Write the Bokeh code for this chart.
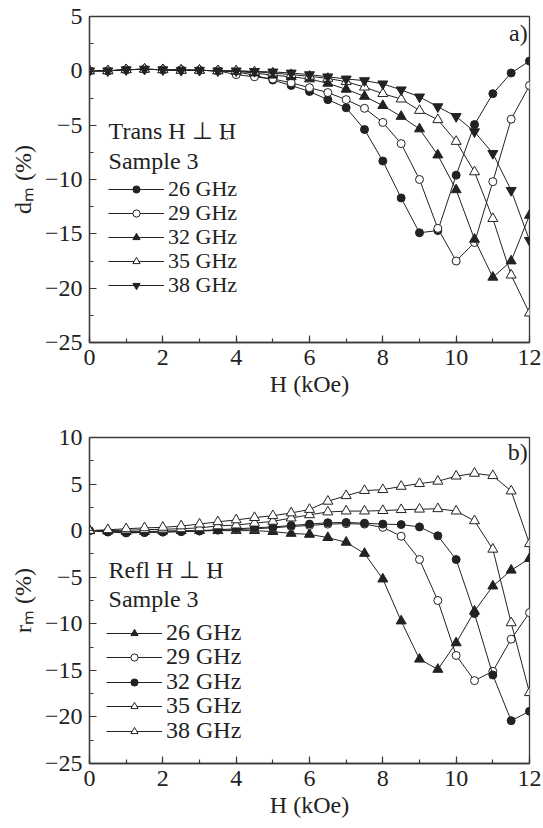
import math
from bokeh.plotting import figure
from bokeh.models import Range1d, SingleIntervalTicker, Legend, LegendItem, Label
from bokeh.layouts import column
from bokeh.embed import file_html
from bokeh.resources import INLINE

# ---------------- data ----------------
H = [0, 0.5, 1, 1.5, 2, 2.5, 3, 3.5, 4, 4.5, 5, 5.5, 6, 6.5, 7, 7.5, 8, 8.5, 9, 9.5, 10, 10.5, 11, 11.5, 12]

freq_labels = ["26 GHz", "29 GHz", "32 GHz", "35 GHz", "38 GHz"]

# panel a) transmission d_m (%)
d_26 = [0, 0, 0.1, 0.15, 0.1, 0.1, 0.05, 0, -0.1, -0.4, -0.85, -1.35, -1.9, -2.65, -3.4, -5.4, -8.3, -11.7, -14.9, -14.7, -9.6, -4.95, -2.1, -0.2, 0.9]
d_29 = [0, 0, 0.1, 0.15, 0.1, 0.05, 0.05, 0, -0.35, -0.55, -0.75, -1.1, -1.55, -2.0, -2.65, -3.45, -4.75, -6.7, -10.0, -14.5, -17.5, -15.8, -10.2, -4.45, -1.35]
d_32 = [0, 0, 0.1, 0.15, 0.1, 0.05, 0.05, 0, -0.05, -0.2, -0.4, -0.55, -0.75, -1.15, -1.7, -2.35, -3.2, -4.2, -5.35, -7.75, -10.95, -15.5, -19.0, -17.5, -13.3]
d_35 = [0, 0, 0.1, 0.15, 0.1, 0.05, 0.05, 0, 0, -0.1, -0.2, -0.35, -0.5, -0.7, -1.0, -1.5, -2.1, -2.6, -3.65, -4.5, -6.5, -9.3, -13.6, -18.8, -22.3]
d_38 = [0, 0, 0.1, 0.15, 0.1, 0.05, 0.05, 0, 0, -0.05, -0.1, -0.2, -0.35, -0.55, -0.75, -0.9, -1.2, -1.75, -2.4, -3.3, -4.2, -5.6, -7.6, -11.0, -15.6]

# panel b) reflection r_m (%)
r_26 = [0, -0.05, -0.1, -0.1, -0.05, 0, 0, 0, 0, 0, -0.1, -0.3, -0.4, -0.75, -1.25, -2.45, -5.2, -9.7, -13.8, -14.9, -12.05, -8.65, -5.95, -4.25, -3.0]
r_29 = [0, -0.1, -0.2, -0.2, -0.15, -0.1, -0.05, 0.05, 0.1, 0.2, 0.3, 0.45, 0.55, 0.7, 0.75, 0.7, 0.35, -0.6, -3.1, -7.5, -13.4, -16.1, -15.1, -11.65, -8.8]
r_32 = [0, -0.15, -0.25, -0.2, -0.15, -0.1, 0, 0.1, 0.2, 0.3, 0.4, 0.55, 0.7, 0.85, 0.88, 0.8, 0.7, 0.65, 0.4, -0.55, -3.1, -8.9, -15.5, -20.4, -19.4]
r_35 = [0, 0, 0.05, 0.1, 0.15, 0.2, 0.3, 0.5, 0.6, 0.8, 1.0, 1.35, 1.7, 2.0, 2.1, 2.1, 2.15, 2.25, 2.3, 2.35, 2.1, 1.05, -2.0, -9.9, -17.4]
r_38 = [0, 0.1, 0.2, 0.3, 0.35, 0.5, 0.7, 0.95, 1.15, 1.4, 1.6, 1.9, 2.27, 3.15, 3.75, 4.3, 4.4, 4.75, 5.05, 5.3, 5.85, 6.15, 5.9, 4.25, -1.4]

x_ticks_interval = 2
y_ticks_interval = 5

# ---------------- styling ----------------
FONT = "Liberation Serif"
INK = "#222222"
AXC = "#3a3a3a"

MARK = {
    "fcircle": dict(marker="circle", size=8, fill_color=INK),
    "ocircle": dict(marker="circle", size=8, fill_color="white"),
    "ftri": dict(marker="triangle", size=10, fill_color=INK),
    "otri": dict(marker="triangle", size=10, fill_color="white"),
    "finv": dict(marker="inverted_triangle", size=10, fill_color=INK),
}


def base_fig(height, btop, bbottom, y0, y1, xlabel, ylabel):
    p = figure(width=543, height=height, output_backend="svg", toolbar_location=None,
               x_range=Range1d(0, 12), y_range=Range1d(y0, y1),
               min_border_left=89, min_border_right=14,
               min_border_top=btop, min_border_bottom=bbottom,
               background_fill_color="white", border_fill_color="white")
    p.xgrid.visible = False
    p.ygrid.visible = False
    p.outline_line_color = AXC
    p.outline_line_width = 1.3
    p.xaxis.ticker = SingleIntervalTicker(interval=x_ticks_interval, num_minor_ticks=2)
    p.yaxis.ticker = SingleIntervalTicker(interval=y_ticks_interval, num_minor_ticks=2)
    for ax in (p.xaxis[0], p.yaxis[0]):
        ax.axis_line_color = AXC
        ax.axis_line_width = 1.3
        ax.major_tick_line_color = AXC
        ax.minor_tick_line_color = AXC
        ax.major_tick_line_width = 1.2
        ax.minor_tick_line_width = 1.2
        ax.major_tick_in = 7
        ax.major_tick_out = 0
        ax.minor_tick_in = 4
        ax.minor_tick_out = 0
        ax.major_label_text_font = FONT
        ax.major_label_text_font_size = "24px"
        ax.major_label_text_color = INK
        ax.major_label_standoff = 7
        ax.axis_label_text_font = FONT
        ax.axis_label_text_font_size = "24px"
        ax.axis_label_text_font_style = "normal"
        ax.axis_label_text_color = INK
    p.xaxis.axis_label = xlabel
    p.xaxis.axis_label_standoff = 3
    p.yaxis.axis_label = ylabel
    p.yaxis.axis_label_standoff = 6
    return p


def add_series(p, series, styles):
    items = []
    for (lab, ys), st in zip(series, styles):
        ln = p.line(H, ys, line_color=INK, line_width=1)
        sc = p.scatter(H, ys, line_color=INK, line_width=1, **MARK[st])
        items.append(LegendItem(label=lab, renderers=[ln, sc]))
    return items


def add_legends(p, items, x_off, y_offs, fsize):
    # one small legend per entry so that the entry pitch can match the original
    for it, yo in zip(items, y_offs):
        lg = Legend(items=[it], location=(x_off, yo), orientation="vertical",
                    glyph_width=56, glyph_height=18, label_height=18,
                    spacing=0, padding=0, margin=0, label_standoff=4,
                    label_text_font=FONT, label_text_font_size=fsize,
                    label_text_color=INK,
                    background_fill_alpha=0, border_line_alpha=0)
        p.add_layout(lg)


def txt(p, x, y, s, size="24px", align="left", baseline="alphabetic"):
    p.add_layout(Label(x=x, y=y, text=s, text_font=FONT, text_font_size=size,
                       text_color=INK, text_align=align, text_baseline=baseline))


# ---------------- panel a ----------------
pa = base_fig(414, 16, 72, -25, 5, "H (kOe)", "d\u2098 (%)")
items_a = add_series(pa, list(zip(freq_labels, [d_26, d_29, d_32, d_35, d_38])),
                     ["fcircle", "ocircle", "ftri", "otri", "finv"])
add_legends(pa, items_a, 19, [140, 116, 92, 68, 44], "22px")
txt(pa, 0.52, -5.5, "Trans H \u22a5 H")
txt(pa, 3.57, -6.3, "~", size="15px")
txt(pa, 0.52, -8.3, "Sample 3")
txt(pa, 11.95, 3.5, "a)", align="right")

# ---------------- panel b ----------------
pb = base_fig(414, 23, 65, -25, 10, "H (kOe)", "r\u2098 (%)")
items_b = add_series(pb, list(zip(freq_labels, [r_26, r_29, r_32, r_35, r_38])),
                     ["ftri", "ocircle", "fcircle", "otri", "otri"])
add_legends(pb, items_b, 17, [117, 93, 68, 44, 19], "24px")
txt(pb, 0.52, -4.2, "Refl H \u22a5 H")
txt(pb, 3.25, -5.05, "~", size="15px")
txt(pb, 0.52, -7.3, "Sample 3")
txt(pb, 11.95, 8.4, "b)", align="right")

layout = column(pa, pb, spacing=0)
open("out.html", "w").write(file_html(layout, INLINE))
